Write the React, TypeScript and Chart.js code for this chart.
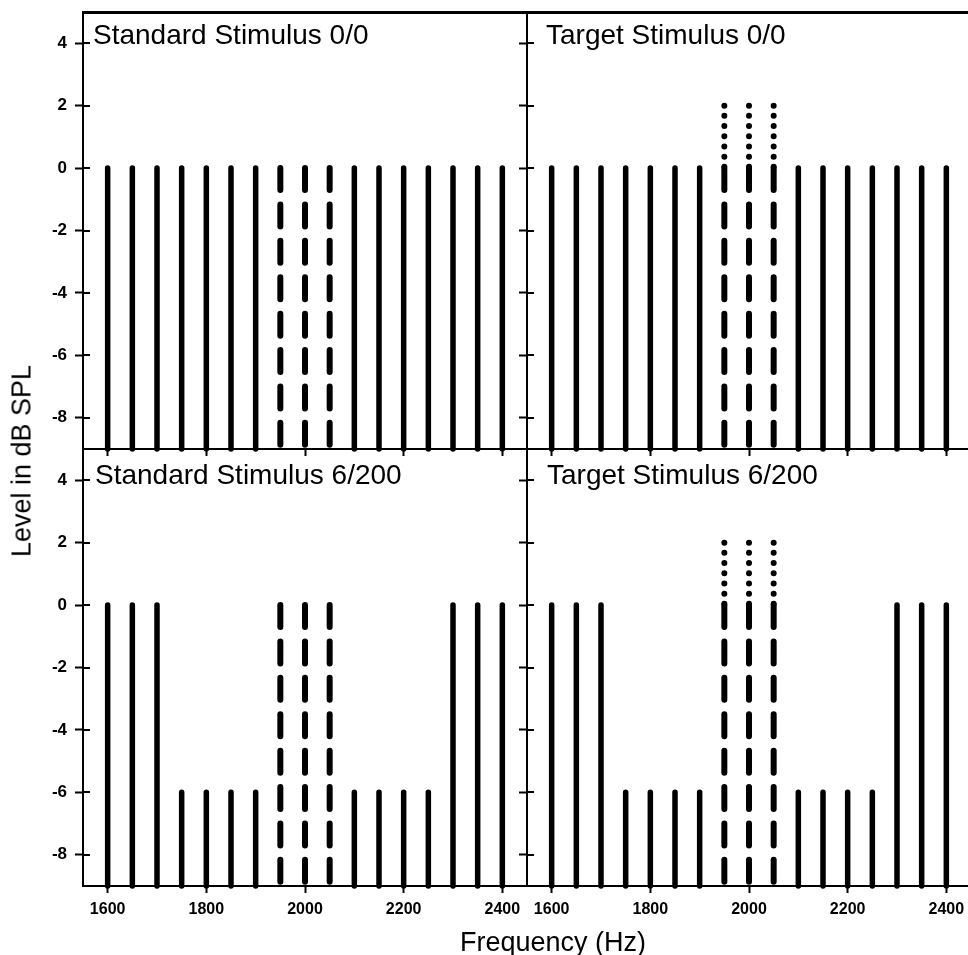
import React, { useEffect, useRef } from 'react';
import { Chart, registerables } from 'chart.js';

Chart.register(...registerables);

// ---------------- data ----------------
const FREQUENCIES = [1600, 1650, 1700, 1750, 1800, 1850, 1900, 1950, 2000, 2050, 2100, 2150, 2200, 2250, 2300, 2350, 2400];
const LEVELS_0_0 = [0, 0, 0, 0, 0, 0, 0, 0, 0, 0, 0, 0, 0, 0, 0, 0, 0];
const LEVELS_6_200 = [0, 0, 0, -6, -6, -6, -6, 0, 0, 0, -6, -6, -6, -6, 0, 0, 0];
const SIGNAL_FREQUENCIES = [1950, 2000, 2050];
const TARGET_INCREMENT_LEVEL = 2;
const FLOOR_LEVEL = -9;
const X_TICKS = [1600, 1800, 2000, 2200, 2400];
const Y_TICKS = [-8, -6, -4, -2, 0, 2, 4];
const X_MIN = 1550;
const X_MAX = 2450;
const Y_MIN = -9;
const Y_MAX = 5;
const PANEL_TITLES = ['Standard Stimulus 0/0', 'Target Stimulus 0/0', 'Standard Stimulus 6/200', 'Target Stimulus 6/200'];
const Y_TITLE = 'Level in dB SPL';
const X_TITLE = 'Frequency (Hz)';

// ---------------- layout ----------------
const CANVAS_W = 560;
const CANVAS_H = 500;
const AXIS_W = 83;
const PANEL_W = 444;
const PANEL_H = 437;
const PAD_TOP = 12;
const FONT = '"Liberation Sans", Arial, Helvetica, sans-serif';

type PanelCfg = {
  title: string;
  levels: number[];
  target: boolean;
  left: number;
  top: number;
  showY: boolean;
  showX: boolean;
  topBorder: boolean;
  titleLeft: number;
  titleTop: number;
};

const PANELS: PanelCfg[] = [
  { title: PANEL_TITLES[0], levels: LEVELS_0_0, target: false, left: 0, top: 0, showY: true, showX: false, topBorder: true, titleLeft: 93, titleTop: 21 },
  { title: PANEL_TITLES[1], levels: LEVELS_0_0, target: true, left: PANEL_W, top: 0, showY: false, showX: false, topBorder: true, titleLeft: 546, titleTop: 21 },
  { title: PANEL_TITLES[2], levels: LEVELS_6_200, target: false, left: 0, top: PANEL_H, showY: true, showX: true, topBorder: false, titleLeft: 95, titleTop: 461 },
  { title: PANEL_TITLES[3], levels: LEVELS_6_200, target: true, left: PANEL_W, top: PANEL_H, showY: false, showX: true, topBorder: false, titleLeft: 547, titleTop: 461 },
];

const zeroPad = (s: any) => {
  s.paddingTop = 0;
  s.paddingBottom = 0;
  s.paddingLeft = 0;
  s.paddingRight = 0;
};

const innerTicks = {
  id: 'innerTicks',
  beforeDatasetsDraw(chart: any) {
    const s = chart.scales.y;
    const ctx = chart.ctx;
    const left = chart.chartArea.left;
    ctx.save();
    ctx.strokeStyle = '#000';
    ctx.lineWidth = 2;
    s.ticks.forEach((t: any) => {
      const y = Math.round(s.getPixelForValue(t.value));
      ctx.beginPath();
      ctx.moveTo(left, y);
      ctx.lineTo(left + 7, y);
      ctx.stroke();
    });
    ctx.restore();
  },
};

function buildConfig(p: PanelCfg): any {
  const datasets: any[] = [];
  FREQUENCIES.forEach((f, i) => {
    const dashed = SIGNAL_FREQUENCIES.includes(f);
    datasets.push({
      data: [{ x: f, y: p.levels[i] }, { x: f, y: FLOOR_LEVEL }],
      borderColor: '#000',
      borderWidth: dashed ? 6 : 5.5,
      borderCapStyle: 'round',
      borderDash: dashed ? [22, 14.4] : [],
      pointRadius: 0,
      tension: 0,
      clip: false,
      xAxisID: 'x',
      yAxisID: 'y',
    });
  });
  if (p.target) {
    SIGNAL_FREQUENCIES.forEach((f) => {
      const i = FREQUENCIES.indexOf(f);
      datasets.push({
        data: [{ x: f, y: TARGET_INCREMENT_LEVEL }, { x: f, y: p.levels[i] }],
        borderColor: '#000',
        borderWidth: 6,
        borderCapStyle: 'round',
        borderDash: [0, 10.2],
        pointRadius: 0,
        tension: 0,
        clip: false,
        xAxisID: 'x',
        yAxisID: 'y',
      });
    });
  }

  const scales: any = {
    x: {
      type: 'linear',
      position: 'bottom',
      min: X_MIN,
      max: X_MAX,
      afterBuildTicks: (s: any) => { s.ticks = X_TICKS.map((v) => ({ value: v })); },
      afterFit: (s: any) => { s.height = CANVAS_H - PAD_TOP - PANEL_H; zeroPad(s); },
      grid: { display: true, drawOnChartArea: false, drawTicks: true, tickLength: 7, tickWidth: 2, tickColor: '#000', color: '#000' },
      border: { display: true, color: '#000', width: 2 },
      ticks: {
        display: p.showX,
        autoSkip: false,
        maxRotation: 0,
        padding: 7,
        color: '#000',
        font: { family: FONT, weight: 'bold', size: 16 },
        callback: (v: any) => String(v),
      },
    },
    y: {
      type: 'linear',
      position: 'left',
      min: Y_MIN,
      max: Y_MAX,
      afterBuildTicks: (s: any) => { s.ticks = Y_TICKS.map((v) => ({ value: v })); },
      afterFit: (s: any) => { s.width = AXIS_W; zeroPad(s); },
      grid: { display: true, drawOnChartArea: false, drawTicks: true, tickLength: 8, tickWidth: 2, tickColor: '#000', color: '#000' },
      border: { display: true, color: '#000', width: 2 },
      ticks: {
        display: p.showY,
        padding: 8,
        color: '#000',
        font: { family: FONT, weight: 'bold', size: 17 },
        callback: (v: any) => String(v),
      },
    },
  };
  if (p.topBorder) {
    scales.xTop = {
      type: 'linear',
      position: 'top',
      min: X_MIN,
      max: X_MAX,
      afterFit: (s: any) => { s.height = 0; zeroPad(s); },
      grid: { display: false, drawTicks: false },
      border: { display: true, color: '#000', width: 3 },
      ticks: { display: false },
    };
  }

  return {
    type: 'line',
    data: { datasets },
    options: {
      responsive: false,
      animation: false,
      events: [],
      layout: { padding: { left: 0, top: PAD_TOP, right: CANVAS_W - AXIS_W - PANEL_W, bottom: 0 } },
      plugins: { legend: { display: false }, tooltip: { enabled: false }, title: { display: false } },
      scales,
    },
    plugins: [innerTicks],
  };
}

function Panel({ cfg }: { cfg: PanelCfg }) {
  const ref = useRef<HTMLCanvasElement>(null);
  useEffect(() => {
    const chart = new Chart(ref.current as HTMLCanvasElement, buildConfig(cfg));
    return () => chart.destroy();
  }, [cfg]);
  return (
    <canvas
      ref={ref}
      width={CANVAS_W}
      height={CANVAS_H}
      style={{ position: 'absolute', left: cfg.left, top: cfg.top, width: CANVAS_W, height: CANVAS_H, display: 'block' }}
    />
  );
}

export default function App() {
  return (
    <div style={{ position: 'absolute', left: 0, top: 0, width: 968, height: 955, overflow: 'hidden', background: '#fff', fontFamily: FONT, color: '#000' }}>
      {PANELS.map((p, i) => (
        <Panel key={i} cfg={p} />
      ))}
      {PANELS.map((p, i) => (
        <div
          key={'t' + i}
          style={{ position: 'absolute', left: p.titleLeft, top: p.titleTop, fontSize: 28, lineHeight: '28px', whiteSpace: 'nowrap' }}
        >
          {p.title}
        </div>
      ))}
      <div
        style={{ position: 'absolute', left: 22, top: 461, fontSize: 27, lineHeight: '27px', whiteSpace: 'nowrap', transform: 'translate(-50%, -50%) rotate(-90deg)' }}
      >
        {Y_TITLE}
      </div>
      <div
        style={{ position: 'absolute', left: 553, top: 929, fontSize: 27, lineHeight: '27px', whiteSpace: 'nowrap', transform: 'translateX(-50%)' }}
      >
        {X_TITLE}
      </div>
    </div>
  );
}
